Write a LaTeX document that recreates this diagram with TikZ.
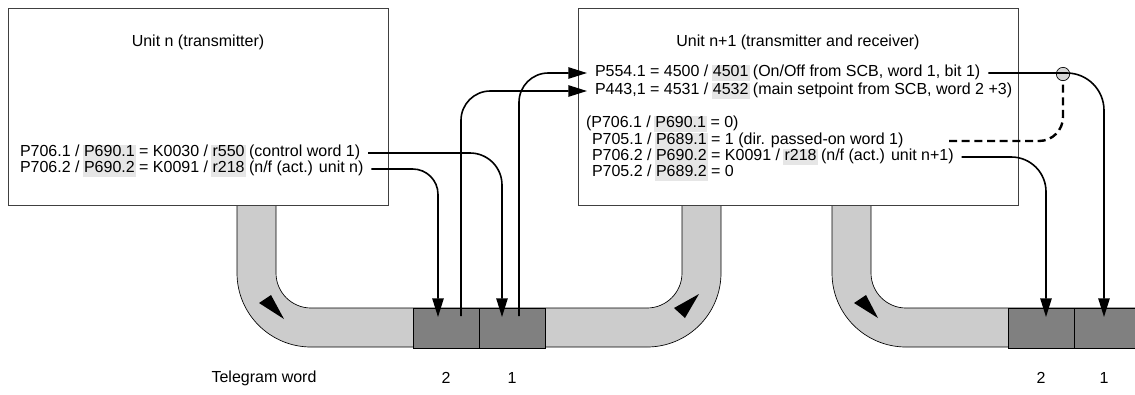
\documentclass[tikz,border=0pt]{standalone}
\usepackage{fontspec}
\setmainfont{Liberation Sans}
\usetikzlibrary{arrows.meta,positioning,calc}
\definecolor{pipegray}{HTML}{CCCCCC}
\definecolor{slotgray}{HTML}{808080}
\definecolor{hlgray}{HTML}{E6E6E6}
\definecolor{edge}{HTML}{404040}
\newcommand{\hl}[1]{\kern-1pt\relax{\setlength{\fboxsep}{0pt}\colorbox{hlgray}{\rule[-4pt]{0pt}{12.6pt}\kern1pt\relax#1\kern1pt\relax}}\kern-1pt\relax}

\begin{document}
\begin{tikzpicture}[x=.75pt,y=-.75pt,font=\fontsize{12}{12}\selectfont,
  unitbox/.style={draw=edge,fill=white,line width=.75pt,inner sep=0pt},
  txt/.style={anchor=west,inner sep=0pt,outer xsep=6pt,text height=8.5pt,text depth=4pt},
  slotbox/.style={draw=black,fill=slotgray,line width=.5pt,minimum width=49.5pt,minimum height=30pt,inner sep=0pt},
  pipeband/.style={draw=black,fill=pipegray,line width=.5pt},
  flowmark/.style={fill=black},
  conn/.style={line width=1.2pt},
  sendarrow/.style={-{Triangle[length=14pt,width=8.5pt]}}]
\useasboundingbox (0,0) rectangle (1135,394);
% telegram pipes
\path[pipeband] (237,205) -- (237,273) arc[start angle=180,end angle=90,radius=74]
  -- (647,347) arc[start angle=90,end angle=0,radius=74] -- (721,205) -- (682,205)
  -- (682,273) arc[start angle=0,end angle=90,radius=35] -- (311,308)
  arc[start angle=90,end angle=180,radius=35] -- (276,205) -- cycle;
\path[pipeband] (832,205) -- (832,273) arc[start angle=180,end angle=90,radius=74]
  -- (1140,347) -- (1140,308) -- (906,308) arc[start angle=90,end angle=180,radius=35]
  -- (871,205) -- cycle;
\fill[flowmark] (259,303) -- (271,295) -- (284,319) -- cycle;
\fill[flowmark] (674,308) -- (685,318) -- (699,294) -- cycle;
\fill[flowmark] (854,303) -- (866,295) -- (878,318) -- cycle;
% units
\node[unitbox,minimum width=285pt,minimum height=147.75pt] (tx) at (198,106.5) {};
\node[unitbox,minimum width=330pt,minimum height=147.75pt] (rx) at (798,106.5) {};
\node (txname) at (198,42) {Unit n (transmitter)};
\node (rxname) at (798,42) {Unit n+1 (transmitter and receiver)};
% telegram words
\node[slotbox] (w2a) at (446,328) {};
\node[slotbox,right=0pt of w2a] (w1a) {};
\node[slotbox] (w2b) at (1041,328) {};
\node[slotbox,right=0pt of w2b] (w1b) {};
\coordinate (t2a) at (438,317);
\coordinate (s2a) at (461,316);
\coordinate (t1a) at (502,317);
\coordinate (s1a) at (519,316);
\coordinate (t2b) at (1046,317);
\coordinate (t1b) at (1104,317);
% parameter lines
\node[txt] (cw1) at (12,153) {P706.1 / \hl{P690.1} = K0030 / \hl{r550} (control word 1)};
\node[txt] (nf1) at (12,169) {P706.2 / \hl{P690.2} = K0091 / \hl{r218} (n/f (act.) unit n)};
\node[txt] (p554) at (587,73) {P554.1 = 4500 / \hl{4501} (On/Off from SCB, word 1, bit 1)};
\node[txt] (p443) at (587,91) {P443,1 = 4531 / \hl{4532} (main setpoint from SCB, word 2 +3)};
\node[txt] (p706a) at (578,124) {(P706.1 / \hl{P690.1} = 0)};
\node[txt] (p705a) at (584,141) {P705.1 / \hl{P689.1} = 1 (dir. passed-on word 1)};
\node[txt] (p706b) at (584,157) {P706.2 / \hl{P690.2} = K0091 / \hl{r218} (n/f (act.) unit n+1)};
\node[txt] (p705b) at (584,173) {P705.2 / \hl{P689.2} = 0};
\coordinate (pass) at (949,141);
% connectors
\draw[conn,sendarrow,rounded corners=24pt] (cw1.east) -| (t1a);
\draw[conn,sendarrow,rounded corners=19pt] (nf1.east) -| (t2a);
\draw[conn,sendarrow,rounded corners=22pt] (s2a) |- (p443.west);
\draw[conn,sendarrow,rounded corners=22pt] (s1a) |- (p554.west);
\node[circle,draw=black,fill=pipegray!80,line width=.5pt,minimum size=10pt,inner sep=0pt] (junc) at (1063,74) {};
\draw[conn,line width=1.8pt,dash pattern=on 6pt off 3.5pt,rounded corners=18pt] (pass) -| (junc.south);
\draw[conn,sendarrow,rounded corners=28pt] (p554.east) -| (t1b);
\draw[conn,sendarrow,rounded corners=26pt] (p706b.east) -| (t2b);
% labels
\node (tgw) at (264,378) {Telegram word};
\node (n2a) at (446,378) {2};
\node (n1a) at (512,378) {1};
\node (n2b) at (1041,378) {2};
\node (n1b) at (1104,378) {1};
\end{tikzpicture}
\end{document}
